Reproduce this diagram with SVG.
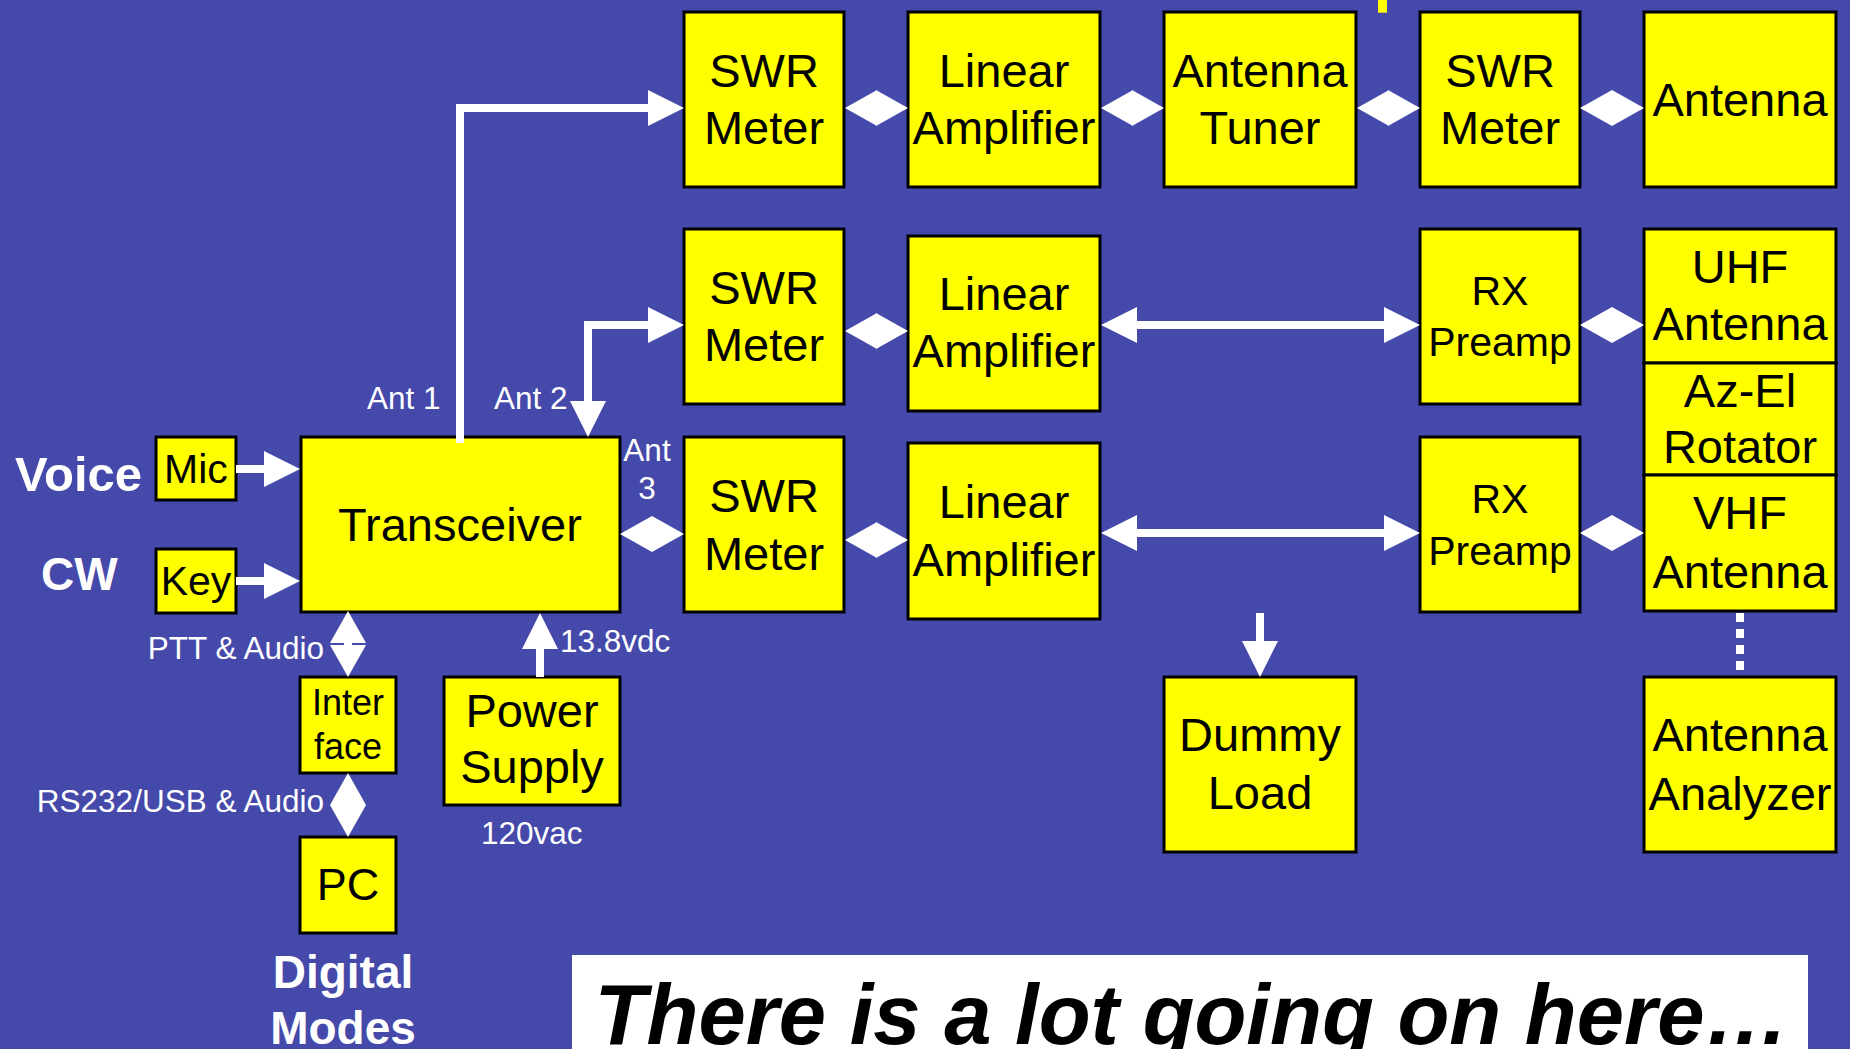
<svg xmlns="http://www.w3.org/2000/svg" width="1850" height="1049" viewBox="0 0 1850 1049">
<defs>
<style>
.box{fill:#FFFF00;stroke:#000;stroke-width:3}
.t{font-family:"Liberation Sans",Arial,sans-serif;font-size:47px;fill:#000;text-anchor:middle}
.lbl{font-family:"Liberation Sans",Arial,sans-serif;font-size:31.5px;fill:#fff}
.big{font-family:"Liberation Sans",Arial,sans-serif;font-size:46px;font-weight:bold;fill:#fff}
.w{fill:none;stroke:#fff;stroke-width:8;stroke-linejoin:miter}
.a{marker-end:url(#ah)}
.aa{marker-start:url(#ah);marker-end:url(#ah)}
.dd{marker-start:url(#dh);marker-end:url(#dh)}
</style>
<marker id="ah" markerUnits="userSpaceOnUse" viewBox="0 0 36 36" markerWidth="36" markerHeight="36" refX="28" refY="18" orient="auto-start-reverse"><path d="M0,0 L36,18 L0,36 Z" fill="#fff"/></marker>
<marker id="dh" markerUnits="userSpaceOnUse" viewBox="0 0 32 36" markerWidth="32" markerHeight="36" refX="24" refY="18" orient="auto-start-reverse"><path d="M0,0 L32,18 L0,36 Z" fill="#fff"/></marker>
</defs>
<rect x="0" y="0" width="1850" height="1049" fill="#4549AA"/>
<rect x="1378" y="0" width="9" height="12.7" fill="#FFFF00"/>

<g id="swr1"><rect class="box" x="684" y="12" width="160" height="175"/><text class="t" x="764" y="87">SWR</text><text class="t" x="764" y="144">Meter</text></g>
<g id="linamp1"><rect class="box" x="908" y="12" width="192" height="175"/><text class="t" x="1004" y="87">Linear</text><text class="t" x="1004" y="144">Amplifier</text></g>
<g id="tuner"><rect class="box" x="1164" y="12" width="192" height="175"/><text class="t" x="1260" y="87">Antenna</text><text class="t" x="1260" y="144">Tuner</text></g>
<g id="swr2"><rect class="box" x="1420" y="12" width="160" height="175"/><text class="t" x="1500" y="87">SWR</text><text class="t" x="1500" y="144">Meter</text></g>
<g id="antenna"><rect class="box" x="1644" y="12" width="192" height="175"/><text class="t" x="1740" y="116">Antenna</text></g>

<g id="swr3"><rect class="box" x="684" y="229" width="160" height="175"/><text class="t" x="764" y="304">SWR</text><text class="t" x="764" y="361">Meter</text></g>
<g id="linamp2"><rect class="box" x="908" y="236" width="192" height="175"/><text class="t" x="1004" y="310">Linear</text><text class="t" x="1004" y="367">Amplifier</text></g>
<g id="rxpre1"><rect class="box" x="1420" y="229" width="160" height="175"/><text class="t" x="1500" y="305" style="font-size:41px">RX</text><text class="t" x="1500" y="356" style="font-size:41px">Preamp</text></g>
<g id="uhf"><rect class="box" x="1644" y="229" width="192" height="134"/><text class="t" x="1740" y="283">UHF</text><text class="t" x="1740" y="340">Antenna</text></g>
<g id="rotator"><rect class="box" x="1644" y="363" width="192" height="112"/><text class="t" x="1740" y="407">Az-El</text><text class="t" x="1740" y="463">Rotator</text></g>
<g id="vhf"><rect class="box" x="1644" y="475" width="192" height="136"/><text class="t" x="1740" y="529">VHF</text><text class="t" x="1740" y="588">Antenna</text></g>

<g id="transceiver"><rect class="box" x="301" y="437" width="319" height="175"/><text class="t" x="460" y="541">Transceiver</text></g>
<g id="swr4"><rect class="box" x="684" y="437" width="160" height="175"/><text class="t" x="764" y="512">SWR</text><text class="t" x="764" y="570">Meter</text></g>
<g id="linamp3"><rect class="box" x="908" y="443" width="192" height="176"/><text class="t" x="1004" y="518">Linear</text><text class="t" x="1004" y="576">Amplifier</text></g>
<g id="rxpre2"><rect class="box" x="1420" y="437" width="160" height="175"/><text class="t" x="1500" y="513" style="font-size:41px">RX</text><text class="t" x="1500" y="565" style="font-size:41px">Preamp</text></g>

<g id="mic"><rect class="box" x="156" y="437" width="80" height="63"/><text class="t" x="196" y="483" style="font-size:41px">Mic</text></g>
<g id="key"><rect class="box" x="156" y="549" width="80" height="64"/><text class="t" x="196" y="595" style="font-size:41px">Key</text></g>
<g id="interface"><rect class="box" x="300" y="677" width="96" height="96"/><text class="t" x="348" y="715" style="font-size:36px">Inter</text><text class="t" x="348" y="759" style="font-size:36px">face</text></g>
<g id="power"><rect class="box" x="444" y="677" width="176" height="128"/><text class="t" x="532" y="727">Power</text><text class="t" x="532" y="783">Supply</text></g>
<g id="pc"><rect class="box" x="300" y="837" width="96" height="96"/><text class="t" x="348" y="900" style="font-size:45px">PC</text></g>
<g id="dummy"><rect class="box" x="1164" y="677" width="192" height="175"/><text class="t" x="1260" y="751">Dummy</text><text class="t" x="1260" y="809">Load</text></g>
<g id="analyzer"><rect class="box" x="1644" y="677" width="192" height="175"/><text class="t" x="1740" y="751">Antenna</text><text class="t" x="1740" y="810">Analyzer</text></g>

<g id="connectors">
<path class="w a" d="M460,443 V108 H676"/>
<path class="w aa" d="M588,429 V325 H676"/>
<path class="w aa" d="M1109,325 H1412"/>
<path class="w aa" d="M1109,533 H1412"/>
<path class="w a" d="M236,469 H292"/>
<path class="w a" d="M236,581 H292"/>
<path class="w a" d="M540,677 V621"/>
<path class="w a" d="M1260,613 V669"/>
<path class="w dd" d="M348,619 V669"/>
<path class="w dd" d="M348,781 V829"/>
<path class="w dd" d="M853,108 H900"/>
<path class="w dd" d="M1109,108 H1156"/>
<path class="w dd" d="M1365,108 H1412"/>
<path class="w dd" d="M1588,108 H1636"/>
<path class="w dd" d="M853,331 H900"/>
<path class="w dd" d="M1588,325 H1636"/>
<path class="w dd" d="M628,534 H676"/>
<path class="w dd" d="M853,540 H900"/>
<path class="w dd" d="M1588,533 H1636"/>
<path d="M1740,613 V671" fill="none" stroke="#fff" stroke-width="8" stroke-dasharray="9 7"/>
</g>

<g id="labels">
<text class="lbl" x="367" y="409">Ant 1</text>
<text class="lbl" x="494" y="409">Ant 2</text>
<text class="lbl" x="647" y="461" text-anchor="middle">Ant</text>
<text class="lbl" x="647" y="499" text-anchor="middle">3</text>
<text class="lbl" x="324" y="659" text-anchor="end">PTT &amp; Audio</text>
<text class="lbl" x="324" y="812" text-anchor="end">RS232/USB &amp; Audio</text>
<text class="lbl" x="560" y="652">13.8vdc</text>
<text class="lbl" x="481" y="844">120vac</text>
<text class="big" x="15" y="491" style="font-size:49px">Voice</text>
<text class="big" x="41" y="590">CW</text>
<text class="big" x="343" y="988" text-anchor="middle">Digital</text>
<text class="big" x="343" y="1044" text-anchor="middle">Modes</text>
</g>

<g id="caption">
<rect x="572" y="955" width="1236" height="94" fill="#fff"/>
<text x="1192" y="1044" text-anchor="middle" style="font-family:'Liberation Sans',Arial,sans-serif;font-size:85px;font-weight:bold;font-style:italic;fill:#000">There is a lot going on here…</text>
</g>
</svg>
